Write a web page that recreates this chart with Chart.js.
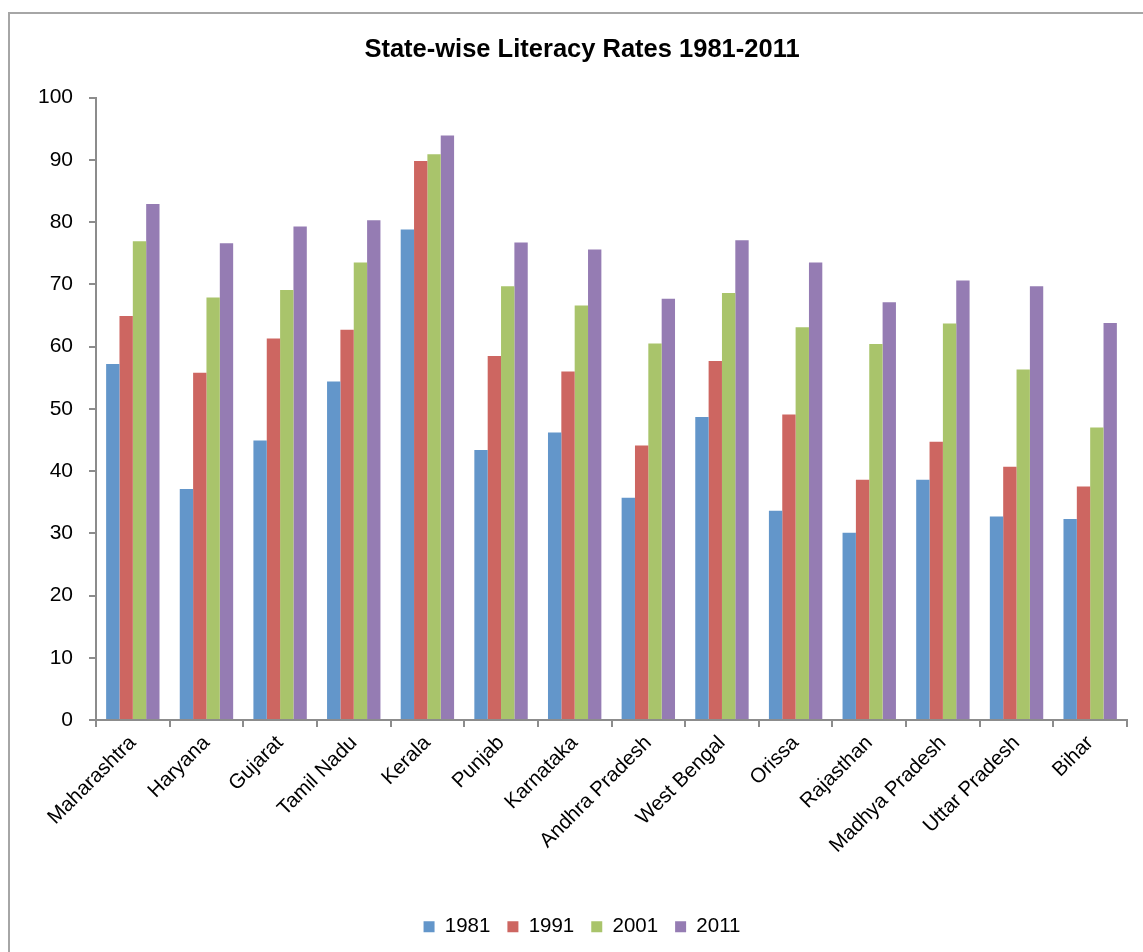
<!DOCTYPE html>
<html>
<head>
<meta charset="utf-8">
<script src="https://cdn.jsdelivr.net/npm/chart.js@4"></script>
<style>
  html, body { margin: 0; padding: 0; background: #fff; }
  #chart { display: block; }
</style>
</head>
<body>
<canvas id="chart" width="1143" height="952"></canvas>
<script>
const STATES = ['Maharashtra', 'Haryana', 'Gujarat', 'Tamil Nadu', 'Kerala', 'Punjab', 'Karnataka',
    'Andhra Pradesh', 'West Bengal', 'Orissa', 'Rajasthan', 'Madhya Pradesh', 'Uttar Pradesh', 'Bihar'];

const YEARS = ['1981', '1991', '2001', '2011'];

const RATE_1981 = [57.2, 37.1, 44.9, 54.4, 78.8, 43.4, 46.2, 35.7, 48.7, 33.6, 30.1, 38.6, 32.7, 32.3];
const RATE_1991 = [64.9, 55.8, 61.3, 62.7, 89.8, 58.5, 56.0, 44.1, 57.7, 49.1, 38.6, 44.7, 40.7, 37.5];
const RATE_2001 = [76.9, 67.9, 69.1, 73.5, 90.9, 69.7, 66.6, 60.5, 68.6, 63.1, 60.4, 63.7, 56.3, 47.0];
const RATE_2011 = [82.9, 76.6, 79.3, 80.3, 93.9, 76.7, 75.6, 67.7, 77.1, 73.5, 67.1, 70.6, 69.7, 63.8];

const SERIES = [RATE_1981, RATE_1991, RATE_2001, RATE_2011];
const COLORS = ['#6396CA', '#CD6661', '#A9C46B', '#957CB3'];

const AXIS_COLOR = '#8C8C8C';
const FONT = 'Liberation Sans, Arial, sans-serif';

Chart.defaults.font.family = FONT;
Chart.defaults.color = '#000';

// grey frame round the whole chart, like the exported office chart
const frame = {
    id: 'frame',
    beforeDraw(chart) {
        const c = chart.ctx;
        c.save();
        c.fillStyle = '#fff';
        c.fillRect(0, 0, chart.width, chart.height);
        c.strokeStyle = '#A6A6A6';
        c.lineWidth = 2;
        c.strokeRect(9, 13, chart.width + 20, chart.height + 20);
        c.restore();
    }
};

new Chart(document.getElementById('chart').getContext('2d'), {
    type: 'bar',
    data: {
        labels: STATES,
        datasets: SERIES.map((s, i) => ({
            label: YEARS[i],
            data: s,
            backgroundColor: COLORS[i],
            borderWidth: 0,
            categoryPercentage: 0.725,
            barPercentage: 1
        }))
    },
    options: {
        responsive: false, animation: false,
        layout: { padding: { top: 35, left: 37, right: 16, bottom: 5 } },
        plugins: {
            title: {
                display: true, text: 'State-wise Literacy Rates 1981-2011',
                color: '#000', font: { size: 25.5, weight: 'bold' },
                padding: { top: 0, bottom: 32 }
            },
            legend: {
                position: 'bottom',
                labels: { boxWidth: 11, boxHeight: 11, padding: 17, font: { size: 20.5 }, color: '#000' }
            },
            tooltip: { enabled: false }
        },
        scales: {
            x: {
                grid: { drawOnChartArea: false, drawTicks: true, tickLength: 7, color: AXIS_COLOR, lineWidth: 2 },
                border: { color: AXIS_COLOR, width: 2 },
                ticks: { font: { size: 20.5 }, color: '#000', minRotation: 45, maxRotation: 45, padding: 4, autoSkip: false },
                afterFit: s => { s.height = 179.5; }
            },
            y: {
                min: 0, max: 100,
                grid: { drawOnChartArea: false, drawTicks: true, tickLength: 7, color: AXIS_COLOR, lineWidth: 2 },
                border: { color: AXIS_COLOR, width: 2 },
                ticks: { stepSize: 10, font: { size: 21 }, color: '#000', padding: 16 },
                afterFit: s => { s.width = 59; }
            }
        }
    },
    plugins: [frame]
});
</script>
</body>
</html>
